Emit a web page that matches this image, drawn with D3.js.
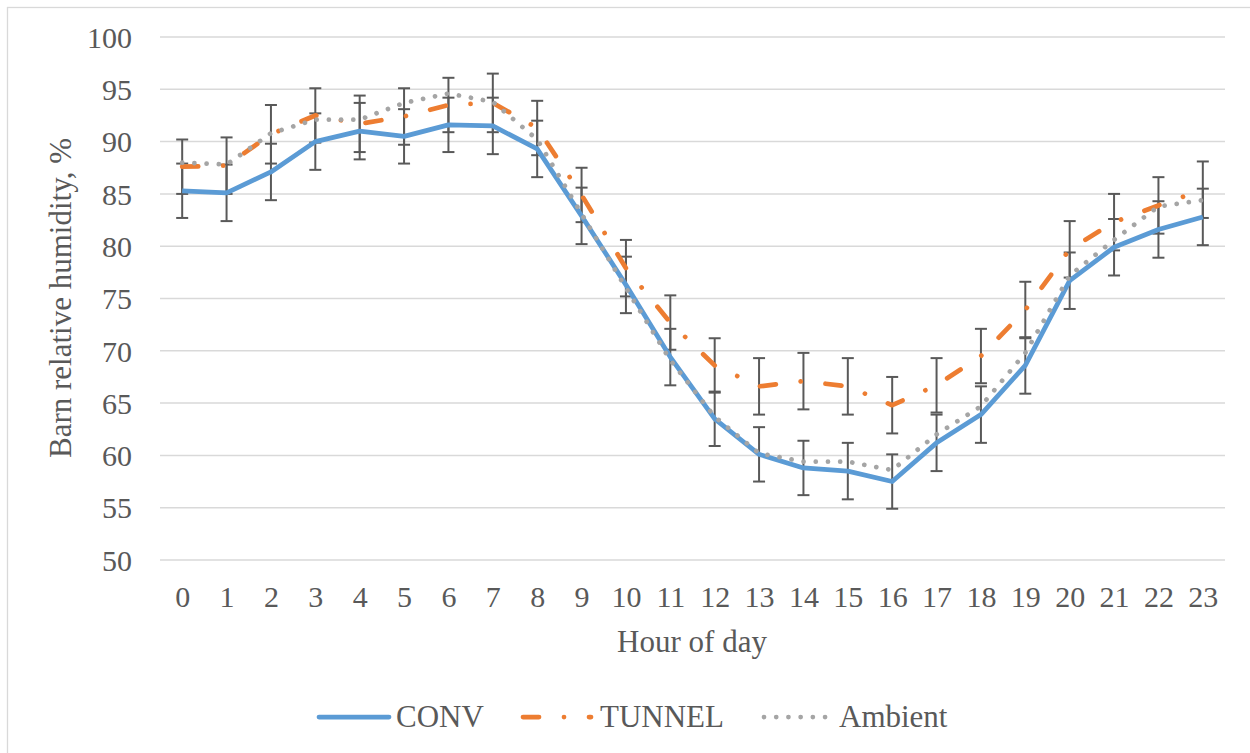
<!DOCTYPE html>
<html>
<head>
<meta charset="utf-8">
<script src="https://cdn.jsdelivr.net/npm/d3@7"></script>
<style>
  body { margin: 0; background: #ffffff; }
  svg text { font-family: "Liberation Serif", "Times New Roman", serif !important; fill: #595959; }
</style>
</head>
<body>
<svg id="chart"></svg>
<script>
width = 1250
height = 753

const serif = "'Liberation Serif', 'Times New Roman', serif"

let hours = d3.range(0, 24)
let yTicks = [50, 55, 60, 65, 70, 75, 80, 85, 90, 95, 100]

let conv = [85.3, 85.1, 87.1, 90.0, 91.0, 90.5, 91.6, 91.5, 89.3, 82.9, 76.3, 69.4,
    63.5, 60.1, 58.8, 58.5, 57.5, 61.2, 63.9, 68.6, 76.7, 79.9, 81.6, 82.8]
let convErr = [2.6, 2.7, 2.7, 2.7, 2.7, 2.6, 2.6, 2.7, 2.7, 2.7, 2.7, 2.7,
    2.6, 2.6, 2.6, 2.7, 2.6, 2.7, 2.7, 2.7, 2.7, 2.7, 2.7, 2.7]

let tunnel = [87.6, 87.7, 90.7, 92.5, 91.7, 92.4, 93.5, 93.7, 91.3, 84.9, 77.9, 72.7,
    68.6, 66.6, 67.1, 66.6, 64.8, 66.7, 69.5, 73.9, 79.7, 82.3, 83.9, 85.4]
let tunnelErr = [2.6, 2.7, 2.8, 2.6, 2.7, 2.7, 2.6, 2.8, 2.6, 2.6, 2.7, 2.6,
    2.6, 2.7, 2.7, 2.7, 2.7, 2.6, 2.6, 2.7, 2.7, 2.7, 2.7, 2.7]

let ambient = [88.0, 87.8, 90.8, 92.1, 92.1, 93.7, 94.6, 93.8, 90.2, 83.1, 76.0, 69.1,
    63.7, 60.2, 59.4, 59.4, 58.6, 62.0, 64.7, 69.8, 77.2, 80.6, 83.8, 84.4]

let series = [
    { name: "CONV", values: conv, errors: convErr, color: "#5B9BD5", dash: null },
    { name: "TUNNEL", values: tunnel, errors: tunnelErr, color: "#ED7D31", dash: "16,25,0.01,25" },
    { name: "Ambient", values: ambient, errors: null, color: "#A5A5A5", dash: "0.01,12.2" }
]

let svg = d3.select("#chart")
    .attr("width", width)
    .attr("height", height)
    .attr("font-family", serif)

// light frame, only top and left edges are inside the picture
svg.append("rect")
    .attr("x", 7.5).attr("y", 7.5)
    .attr("width", 1400).attr("height", 900)
    .attr("fill", "none")
    .attr("stroke", "#d9d9d9")
    .attr("stroke-width", 1.3)

let x = d3.scalePoint()
    .domain(hours)
    .range([160, 1225])
    .padding(0.5)

let y = d3.scaleLinear()
    .domain([50, 100])
    .range([560, 37])

// gridlines
svg.append("g")
    .selectAll("line")
    .data(yTicks)
    .join("line")
    .attr("x1", 160).attr("x2", 1225)
    .attr("y1", d => y(d)).attr("y2", d => y(d))
    .attr("stroke", "#d9d9d9")
    .attr("stroke-width", 1.5)

// y tick labels
let yAxis = d3.axisLeft(y).tickValues(yTicks).tickSize(0).tickPadding(0)
let yg = svg.append("g")
    .attr("transform", "translate(132,0)")
    .call(yAxis)
    .attr("font-family", serif)
yg.select(".domain").remove()
yg.selectAll("text")
    .attr("font-size", "30px")
    .attr("font-family", serif)
    .attr("dy", "0.34em")

// x tick labels
let xAxis = d3.axisBottom(x).tickSize(0).tickPadding(0)
let xg = svg.append("g")
    .attr("transform", "translate(0,585)")
    .call(xAxis)
    .attr("font-family", serif)
xg.select(".domain").remove()
xg.selectAll("text")
    .attr("font-size", "30px")
    .attr("font-family", serif)
    .attr("dy", "0.72em")

// axis titles
svg.append("text")
    .attr("x", 692).attr("y", 652)
    .attr("text-anchor", "middle")
    .attr("font-family", serif)
    .attr("font-size", "31px")
    .text("Hour of day")

svg.append("text")
    .attr("transform", "translate(71,298) rotate(-90)")
    .attr("text-anchor", "middle")
    .attr("font-family", serif)
    .attr("font-size", "31px")
    .text("Barn relative humidity, %")

// error bars
let capHalf = 6
series.filter(s => s.errors).forEach(s => {
    let eg = svg.append("g")
        .attr("stroke", "#595959")
        .attr("stroke-width", 2)
    let rows = hours.map((h, i) => ({ h: h, v: s.values[i], e: s.errors[i] }))
    eg.selectAll("line.bar")
        .data(rows)
        .join("line")
        .attr("class", "bar")
        .attr("x1", d => x(d.h)).attr("x2", d => x(d.h))
        .attr("y1", d => y(d.v + d.e)).attr("y2", d => y(d.v - d.e))
    eg.selectAll("line.captop")
        .data(rows)
        .join("line")
        .attr("class", "captop")
        .attr("x1", d => x(d.h) - capHalf).attr("x2", d => x(d.h) + capHalf)
        .attr("y1", d => y(d.v + d.e)).attr("y2", d => y(d.v + d.e))
    eg.selectAll("line.capbot")
        .data(rows)
        .join("line")
        .attr("class", "capbot")
        .attr("x1", d => x(d.h) - capHalf).attr("x2", d => x(d.h) + capHalf)
        .attr("y1", d => y(d.v - d.e)).attr("y2", d => y(d.v - d.e))
})

// lines
let line = d3.line()
    .x((d, i) => x(hours[i]))
    .y(d => y(d))

series.forEach(s => {
    svg.append("path")
        .datum(s.values)
        .attr("d", line)
        .attr("fill", "none")
        .attr("stroke", s.color)
        .attr("stroke-width", 4.75)
        .attr("stroke-linejoin", "round")
        .attr("stroke-linecap", s.dash ? "round" : "butt")
        .attr("stroke-dasharray", s.dash)
})

// legend
let legendItems = [
    { s: series[0], x1: 319, x2: 389, tx: 396 },
    { s: series[1], x1: 523, x2: 591, tx: 600 },
    { s: series[2], x1: 764, x2: 829, tx: 839 }
]
let legend = svg.append("g")
legendItems.forEach(item => {
    legend.append("line")
        .attr("x1", item.x1).attr("x2", item.x2)
        .attr("y1", 717).attr("y2", 717)
        .attr("stroke", item.s.color)
        .attr("stroke-width", 4.75)
        .attr("stroke-linecap", "round")
        .attr("stroke-dasharray", item.s.dash)
    legend.append("text")
        .attr("x", item.tx).attr("y", 727)
        .attr("font-family", serif)
        .attr("font-size", "31px")
        .text(item.s.name)
})
</script>
</body>
</html>
